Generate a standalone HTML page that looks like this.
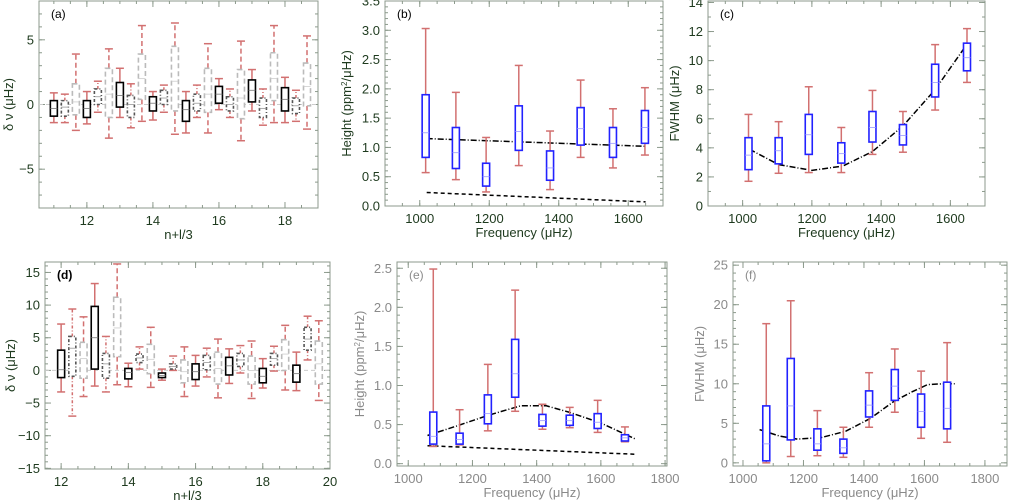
<!DOCTYPE html>
<html><head><meta charset="utf-8"><style>
body{margin:0;background:#fff;}
svg{display:block;font-family:"Liberation Sans",sans-serif;}
</style></head><body>
<svg id="fig" width="1009" height="500" viewBox="0 0 1009 500" xmlns="http://www.w3.org/2000/svg"></svg>
<script>
// ---------- Panel (a) data ----------
const aPos=[11,11.333,11.667,12,12.333,12.667,13,13.333,13.667,14,14.333,14.667,15,15.333,15.667,16,16.333,16.667,17,17.333,17.667,18,18.333,18.667];
const aLo=[-1.4,-1.4,-2.0,-1.5,-0.6,-2.6,-1.0,-1.8,-1.3,-1.2,-0.6,-2.3,-2.2,-1.0,-2.2,-0.4,-1.0,-2.8,-0.5,-1.6,-1.4,-1.4,-1.3,-1.9];
const aQ1=[-0.9,-0.9,-0.8,-1.0,0.0,-1.0,-0.2,-1.0,0.4,-0.5,0.0,-0.5,-1.3,-0.5,-0.6,0.1,-0.5,-1.1,0.2,-1.0,0.3,-0.5,-0.7,-0.1];
const aMed=[-0.3,-0.2,0.2,-0.3,0.6,0.8,0.7,0.0,2.0,0.1,0.5,1.8,-0.4,0.1,0.8,0.8,0.0,0.5,1.1,-0.3,2.0,0.4,-0.1,1.4];
const aQ3=[0.3,0.3,1.6,0.3,1.2,2.8,1.7,0.7,3.9,0.6,1.1,4.5,0.3,0.8,2.8,1.4,0.6,2.7,1.9,0.5,4.0,1.3,0.5,3.2];
const aHi=[0.9,0.8,3.9,1.0,1.8,4.3,2.8,1.6,6.1,1.0,1.5,6.3,1.0,1.5,4.7,2.0,1.2,4.9,2.7,1.2,6.1,2.1,1.1,5.3];
const aXTicks=[12,14,16,18];
const aYTicks=[-5,0,5];
// ---------- Panel (d) data ----------
const dPos=[12,12.333,12.667,13,13.333,13.667,14,14.333,14.667,15,15.333,15.667,16,16.333,16.667,17,17.333,17.667,18,18.333,18.667,19,19.333,19.667];
const dLo=[-3.3,-7.0,-4.0,-2.4,-3.3,-2.2,-2.5,0.2,-2.6,-1.5,0.0,-4.0,-2.4,-1.0,-4.2,-2.0,-0.4,-4.3,-2.7,-0.1,-3.0,-3.1,1.6,-4.6];
const dQ1=[-1.1,-0.9,-1.2,0.2,-1.2,2.1,-1.3,1.2,-0.5,-1.1,0.2,-1.9,-1.4,0.1,-2.1,-0.7,0.6,-2.1,-1.9,0.8,0.0,-1.8,3.1,-2.1];
const dMed=[0.1,3.4,1.8,5.0,1.0,6.5,-0.3,1.9,1.7,-0.8,0.6,-0.2,-0.2,1.2,0.3,0.7,1.6,0.0,-0.9,1.8,2.5,-0.5,4.8,1.0];
const dQ3=[3.1,5.2,4.3,9.8,2.6,11.2,0.3,2.5,4.0,-0.4,1.0,1.6,1.0,2.3,2.8,2.0,2.6,2.2,0.3,2.6,4.7,0.8,6.6,4.5];
const dHi=[7.1,9.4,8.2,13.3,5.2,16.3,1.1,3.6,6.6,0.2,2.2,3.6,2.3,3.4,4.8,3.3,3.8,4.5,1.8,3.7,6.9,2.8,8.3,7.6];
const dXTicks=[12,14,16,18,20];
const dYTicks=[-15,-10,-5,0,5,10,15];
// ---------- Panel (b) data ----------
const bFreq=[1017,1104,1191,1285,1375,1463,1556,1648];
const bLo=[0.57,0.45,0.24,0.69,0.28,0.83,0.65,0.87];
const bQ1=[0.83,0.64,0.34,0.95,0.44,1.04,0.83,1.07];
const bMed=[1.25,0.91,0.50,1.27,0.65,1.32,1.07,1.34];
const bQ3=[1.90,1.34,0.73,1.71,0.94,1.68,1.34,1.63];
const bHi=[3.03,1.94,1.17,2.40,1.28,2.15,1.66,2.02];
const bFitX=[1020,1650];
const bFitY=[1.15,1.02];
const bNoiseX=[1020,1650];
const bNoiseY=[0.23,0.07];
const bXTicks=[1000,1200,1400,1600];
const bYTicks=[0,0.5,1,1.5,2,2.5,3,3.5];
// ---------- Panel (c) data ----------
const cFreq=[1017,1104,1191,1285,1375,1463,1556,1648];
const cLo=[1.7,2.25,2.3,2.3,3.55,3.7,6.6,8.5];
const cQ1=[2.5,2.9,3.55,2.95,4.4,4.2,7.5,9.3];
const cMed=[3.5,3.8,4.9,3.6,5.4,4.85,8.5,10.2];
const cQ3=[4.7,4.7,6.3,4.35,6.5,5.6,9.75,11.2];
const cHi=[6.3,5.8,8.2,5.4,7.95,6.5,11.1,12.2];
const cFitX=[1020,1104,1200,1290,1375,1463,1556,1650];
const cFitY=[3.9,2.85,2.45,2.75,3.75,5.5,8.0,11.2];
const cXTicks=[1000,1200,1400,1600];
const cYTicks=[0,2,4,6,8,10,12,14];
// ---------- Panel (e) data ----------
const eFreq=[1078,1160,1248,1333,1418,1503,1590,1675];
const eLo=[0.22,0.24,0.42,0.67,0.44,0.46,0.40,0.28];
const eQ1=[0.25,0.25,0.51,0.85,0.48,0.49,0.45,0.29];
const eMed=[0.35,0.31,0.64,1.15,0.55,0.55,0.53,0.33];
const eQ3=[0.66,0.39,0.88,1.59,0.63,0.62,0.64,0.37];
const eHi=[2.49,0.69,1.27,2.22,0.76,0.72,0.81,0.47];
const eFitX=[1060,1150,1250,1350,1430,1500,1600,1710];
const eFitY=[0.36,0.48,0.62,0.74,0.74,0.66,0.52,0.31];
const eNoiseX=[1060,1710];
const eNoiseY=[0.23,0.12];
const eXTicks=[1000,1200,1400,1600,1800];
const eYTicks=[0,0.5,1,1.5,2,2.5];
// ---------- Panel (f) data ----------
const fFreq=[1077,1158,1246,1332,1417,1502,1589,1675];
const fLo=[0,0.8,0.9,0.7,4.5,6.4,3.1,2.6];
const fQ1=[0.25,2.9,1.6,1.2,5.8,7.9,4.5,4.3];
const fMed=[2.4,7.2,2.4,1.9,7.3,9.7,6.5,6.9];
const fQ3=[7.2,13.2,4.3,3.0,9.1,11.8,8.7,10.2];
const fHi=[17.6,20.5,6.6,4.5,11.4,14.4,11.6,15.2];
const fFitX=[1055,1120,1180,1260,1340,1420,1500,1560,1610,1660,1700];
const fFitY=[4.2,3.4,3.0,3.2,4.0,5.6,7.8,9.0,9.9,10.0,10.0];
const fXTicks=[1000,1200,1400,1600,1800];
const fYTicks=[0,5,10,15,20,25];

const NS="http://www.w3.org/2000/svg";
const svg=document.getElementById('fig');
function mk(tag,attrs,parent){const e=document.createElementNS(NS,tag);for(const k in attrs)e.setAttribute(k,attrs[k]);(parent||svg).appendChild(e);return e;}

function panel(id,px0,px1,py0,py1,xmin,xmax,ymin,ymax,xt,xminor,yt,yminor,fmtY,txtCol,xlab,ylab,tag){
  const g=mk('g',{});
  
  
  const X=v=>px0+(v-xmin)/(xmax-xmin)*(px1-px0);
  const Y=v=>py1-(v-ymin)/(ymax-ymin)*(py1-py0);
  const frame=mk('rect',{x:px0,y:py0,width:px1-px0,height:py1-py0,fill:'none',stroke:'#8c9a8c','stroke-width':1},g);
  
  
  for(let v=Math.ceil(xmin/xminor)*xminor;v<=xmax+1e-9;v+=xminor){const x=X(v);mk('line',{x1:x,x2:x,y1:py1,y2:py1-3,stroke:'#8c9a8c'},g);mk('line',{x1:x,x2:x,y1:py0,y2:py0+3,stroke:'#8c9a8c'},g);}
  for(let v=Math.ceil(ymin/yminor)*yminor;v<=ymax+1e-9;v+=yminor){const y=Y(v);mk('line',{x1:px0,x2:px0+3,y1:y,y2:y,stroke:'#8c9a8c'},g);mk('line',{x1:px1,x2:px1-3,y1:y,y2:y,stroke:'#8c9a8c'},g);}
  const xa=mk('g',{},g);
  xt.forEach(v=>{const x=X(v);mk('line',{x1:x,x2:x,y1:py1,y2:py1-6,stroke:'#8c9a8c'},xa);mk('line',{x1:x,x2:x,y1:py0,y2:py0+6,stroke:'#8c9a8c'},xa);
    const t=mk('text',{x:x,y:py1+17,'text-anchor':'middle','font-size':13,fill:txtCol},xa);t.textContent=v;
    });
  const ya=mk('g',{},g);
  yt.forEach(v=>{const y=Y(v);mk('line',{x1:px0,x2:px0+6,y1:y,y2:y,stroke:'#8c9a8c'},ya);mk('line',{x1:px1,x2:px1-6,y1:y,y2:y,stroke:'#8c9a8c'},ya);
    const t=mk('text',{x:px0-5,y:y+4.5,'text-anchor':'end','font-size':13,fill:txtCol},ya);t.textContent=fmtY(v);
    });
  const xl=mk('text',{x:(px0+px1)/2,y:py1+31,'text-anchor':'middle','font-size':13,fill:txtCol},g);xl.innerHTML=xlab;
  
  const yl=mk('text',{transform:`translate(${ylab[1]},${(py0+py1)/2}) rotate(-90)`,'text-anchor':'middle','font-size':13,fill:txtCol},g);yl.innerHTML=ylab[0];
  
  const tg=mk('text',{x:px0+12,y:py0+17,'font-size':12,fill:tag[1],'font-weight':tag[2]||'normal'},g);tg.textContent=tag[0];
  
  return {g,X,Y};
}

function box(p,x,lo,q1,md,q3,hi,w,boxCol,medCol,wCol,dash,name){
  const g=mk('g',{},p.g);
  
  
  const cx=p.X(x);
  mk('line',{x1:cx,x2:cx,y1:p.Y(q3),y2:p.Y(hi),stroke:wCol,'stroke-width':1.5,'stroke-dasharray':dash},g);
  mk('line',{x1:cx,x2:cx,y1:p.Y(q1),y2:p.Y(lo),stroke:wCol,'stroke-width':1.5,'stroke-dasharray':dash},g);
  mk('line',{x1:cx-4,x2:cx+4,y1:p.Y(hi),y2:p.Y(hi),stroke:wCol,'stroke-width':1.5},g);
  mk('line',{x1:cx-4,x2:cx+4,y1:p.Y(lo),y2:p.Y(lo),stroke:wCol,'stroke-width':1.5},g);
  mk('rect',{x:cx-w/2,y:p.Y(q3),width:w,height:Math.max(1,p.Y(q1)-p.Y(q3)),fill:'#fff',stroke:boxCol,'stroke-width':1.6,'stroke-dasharray':dash},g);
  mk('line',{x1:cx-w/2,x2:cx+w/2,y1:p.Y(md),y2:p.Y(md),stroke:medCol,'stroke-width':0.8},g);
}
function curve(p,xs,ys,dash,name){
  const d=xs.map((x,i)=>(i?'L':'M')+p.X(x).toFixed(1)+','+p.Y(ys[i]).toFixed(1)).join(' ');
  const e=mk('path',{d:d,fill:'none',stroke:'#000','stroke-width':1.5,'stroke-dasharray':dash},p.g);
  
  
}
const G='#1e3a1e', GR='#8a8a8a', RED='#d27070';
const styles=[['#000','#777',''],['#555','#999','3,2,1,2'],['#bbb','#ccc','5,3']];

const pa=panel('a',39,318,1,208,10.55,19.0,-8,8,aXTicks,0.5,aYTicks,1,v=>v<0?'\u2212'+(-v):v,G,'n+l/3',['\u03b4 \u03bd (\u03bcHz)',13],['(a)','#000']);
mk('line',{x1:39,x2:318,y1:pa.Y(0),y2:pa.Y(0),stroke:'#ccc','stroke-dasharray':'4,3'},pa.g);
aPos.forEach((x,i)=>{const s=styles[i%3];box(pa,x,aLo[i],aQ1[i],aMed[i],aQ3[i],aHi[i],7,s[0],s[1],RED,s[2],'box-a-'+i);});
const pd=panel('d',45,330,262,469,11.52,20.0,-15.1,16.6,dXTicks,0.5,dYTicks,1,v=>v<0?'\u2212'+(-v):v,G,'n+l/3',['\u03b4 \u03bd (\u03bcHz)',15],['(d)','#000','bold']);
mk('line',{x1:45,x2:330,y1:pd.Y(0),y2:pd.Y(0),stroke:'#ccc','stroke-dasharray':'4,3'},pd.g);
dPos.forEach((x,i)=>{const s=styles[i%3];box(pd,x,dLo[i],dQ1[i],dMed[i],dQ3[i],dHi[i],7,s[0],s[1],RED,s[2],'box-d-'+i);});
const pb=panel('b',385,663,1,206,900,1700,0,3.5,bXTicks,50,bYTicks,0.1,v=>v.toFixed(1),G,'Frequency (\u03bcHz)',['Height (ppm<tspan baseline-shift="super" font-size="8">2</tspan>/\u03bcHz)',351],['(b)','#000']);
curve(pb,bFitX,bFitY,'6,2,1,2','fit-line-b');curve(pb,bNoiseX,bNoiseY,'4,3','noise-line-b');
bFreq.forEach((x,i)=>box(pb,x,bLo[i],bQ1[i],bMed[i],bQ3[i],bHi[i],7,'#2222ff','#9999ff',RED,'','box-b-'+i));
const pc=panel('c',708,985,1,206,900,1700,0,14.1,cXTicks,50,cYTicks,1,v=>v,G,'Frequency (\u03bcHz)',['FWHM (\u03bcHz)',679],['(c)','#000']);
curve(pc,cFitX,cFitY,'6,2,1,2','fit-line-c');
cFreq.forEach((x,i)=>box(pc,x,cLo[i],cQ1[i],cMed[i],cQ3[i],cHi[i],7,'#2222ff','#9999ff',RED,'','box-c-'+i));
const pe=panel('e',397,667,262,466,965,1806,-0.03,2.58,eXTicks,50,eYTicks,0.1,v=>v.toFixed(1),GR,'Frequency (\u03bcHz)',['Height (ppm<tspan baseline-shift="super" font-size="8">2</tspan>/\u03bcHz)',364],['(e)',GR]);
curve(pe,eFitX,eFitY,'6,2,1,2','fit-line-e');curve(pe,eNoiseX,eNoiseY,'4,3','noise-line-e');
eFreq.forEach((x,i)=>box(pe,x,eLo[i],eQ1[i],eMed[i],eQ3[i],eHi[i],7,'#2222ff','#9999ff',RED,'','box-e-'+i));
const pf=panel('f',733,1007,262,466,967,1873,-0.4,25.4,fXTicks,50,fYTicks,1,v=>v,GR,'Frequency (\u03bcHz)',['FWHM (\u03bcHz)',704],['(f)',GR]);
curve(pf,fFitX,fFitY,'6,2,1,2','fit-line-f');
fFreq.forEach((x,i)=>box(pf,x,fLo[i],fQ1[i],fMed[i],fQ3[i],fHi[i],7,'#2222ff','#9999ff',RED,'','box-f-'+i));
</script>
</body></html>
